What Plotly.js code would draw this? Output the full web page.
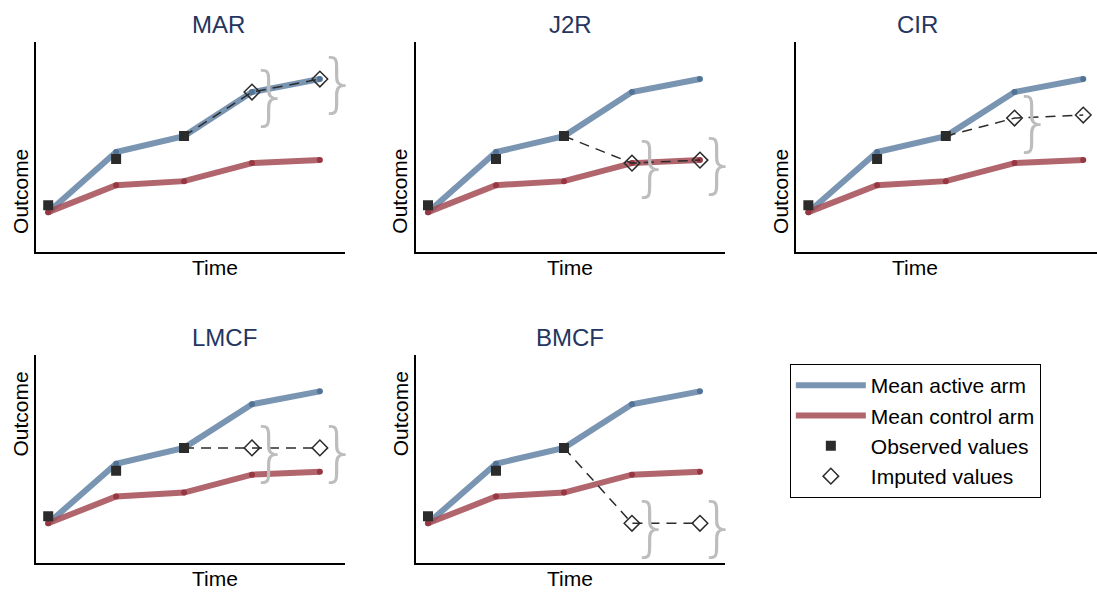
<!DOCTYPE html>
<html>
<head>
<script src="https://cdn.plot.ly/plotly-3.0.1.min.js"></script>
<style>body{margin:0}</style>
</head>
<body>
<div id="chart" style="width:1097px;height:592px"></div>
<script>
const time = [1, 2, 3, 4, 5]
const meanActive = [4, 10, 11.6, 16, 17.3]
const meanControl = [4, 6.7, 7.1, 8.9, 9.2]
const observed = [4.7, 9.3, 11.6]
const panels = ["MAR", "J2R", "CIR", "LMCF", "BMCF"]
const imputed = {
  MAR: [16, 17.3],
  J2R: [8.9, 9.2],
  CIR: [13.4, 13.7],
  LMCF: [11.6, 11.6],
  BMCF: [4.0, 4.0]
}

const blue = "rgba(98,131,164,0.85)"
const red = "rgba(163,74,84,0.85)"
const ink = "#2b2b2b"

const xDomains = [[0.0328, 0.3145], [0.379, 0.661], [0.7256, 1.0], [0.0328, 0.3145], [0.379, 0.661]]
const yDomains = [[0.574, 0.929], [0.574, 0.929], [0.574, 0.929], [0.049, 0.401], [0.049, 0.401]]

const data = []
const layout = {
  width: 1097, height: 592,
  margin: { l: 0, r: 0, t: 0, b: 0 },
  paper_bgcolor: "white", plot_bgcolor: "white",
  font: { family: "Liberation Sans, Arial, sans-serif", color: "black" },
  showlegend: true,
  legend: {
    x: 0.72, y: 0.385, xanchor: "left", yanchor: "top",
    bordercolor: "black", borderwidth: 1, bgcolor: "white",
    font: { size: 21 }, itemwidth: 70, tracegroupgap: 0
  },
  annotations: []
}

panels.forEach(function(name, i) {
  const n = i === 0 ? "" : String(i + 1)
  const xa = "x" + n, ya = "y" + n
  const first = i === 0
  layout["xaxis" + n] = {
    domain: xDomains[i], range: i === 2 ? [0.82, 5.2] : [0.82, 5.37], anchor: ya,
    showline: true, linecolor: "black", linewidth: 2, showgrid: false,
    zeroline: false, showticklabels: false, ticks: "", fixedrange: true
  }
  layout["yaxis" + n] = {
    domain: yDomains[i], range: [0, 21], anchor: xa,
    showline: true, linecolor: "black", linewidth: 2, showgrid: false,
    zeroline: false, showticklabels: false, ticks: "", fixedrange: true
  }
  data.push({
    x: time, y: meanActive, xaxis: xa, yaxis: ya, name: "Mean active arm",
    mode: "lines+markers", line: { color: blue, width: 6 },
    marker: { size: 6, color: "rgb(80,115,150)" }, showlegend: false
  })
  data.push({
    x: time, y: meanControl, xaxis: xa, yaxis: ya, name: "Mean control arm",
    mode: "lines+markers", line: { color: red, width: 6 },
    marker: { size: 6, color: "rgb(150,55,65)" }, showlegend: false
  })
  if (first) {
    data.push({ x: [null], y: [null], xaxis: xa, yaxis: ya, name: "Mean active arm",
      mode: "lines", line: { color: blue, width: 6 } })
    data.push({ x: [null], y: [null], xaxis: xa, yaxis: ya, name: "Mean control arm",
      mode: "lines", line: { color: red, width: 6 } })
  }
  data.push({
    x: [3, 4, 5], y: [observed[2]].concat(imputed[name]), xaxis: xa, yaxis: ya,
    mode: "lines", line: { color: ink, width: 1.5, dash: "10px,7px" },
    showlegend: false, hoverinfo: "skip"
  })
  data.push({
    x: time.slice(0, 3), y: observed, xaxis: xa, yaxis: ya, name: "Observed values",
    mode: "markers", marker: { symbol: "square", size: 10, color: ink }, showlegend: first
  })
  data.push({
    x: time.slice(3), y: imputed[name], xaxis: xa, yaxis: ya, name: "Imputed values",
    mode: "markers",
    marker: { symbol: "diamond-open", size: 12, color: ink, line: { width: 1.5, color: ink } },
    showlegend: first
  })
  imputed[name].forEach(function(v, k) {
    layout.annotations.push({
      x: time[3 + k] + 0.28, y: v - 0.4, xref: xa, yref: ya, text: "}", showarrow: false,
      font: { size: 64, color: "#bdbdbd", family: "DejaVu Sans Light, DejaVu Sans, sans-serif" }
    })
  })
  const xm = (xDomains[i][0] + Math.min(xDomains[i][1], 0.98)) / 2
  layout.annotations.push({
    x: i === 2 ? 0.857 : xm, y: yDomains[i][1] + 0.003, xref: "paper", yref: "paper",
    yanchor: "bottom", text: name, showarrow: false, font: { size: 24, color: "#243660" }
  })
  layout.annotations.push({
    x: i === 2 ? 0.857 : xm, y: yDomains[i][0] - 0.003, xref: "paper", yref: "paper",
    yanchor: "top", text: "Time", showarrow: false, font: { size: 21 }
  })
  layout.annotations.push({
    x: xDomains[i][0] - 0.002, y: (yDomains[i][0] + yDomains[i][1]) / 2, xref: "paper", yref: "paper",
    xanchor: "right", text: "Outcome", textangle: -90, showarrow: false, font: { size: 21 }
  })
})

Plotly.newPlot("chart", data, layout, { displayModeBar: false, staticPlot: true })
</script>
</body>
</html>
